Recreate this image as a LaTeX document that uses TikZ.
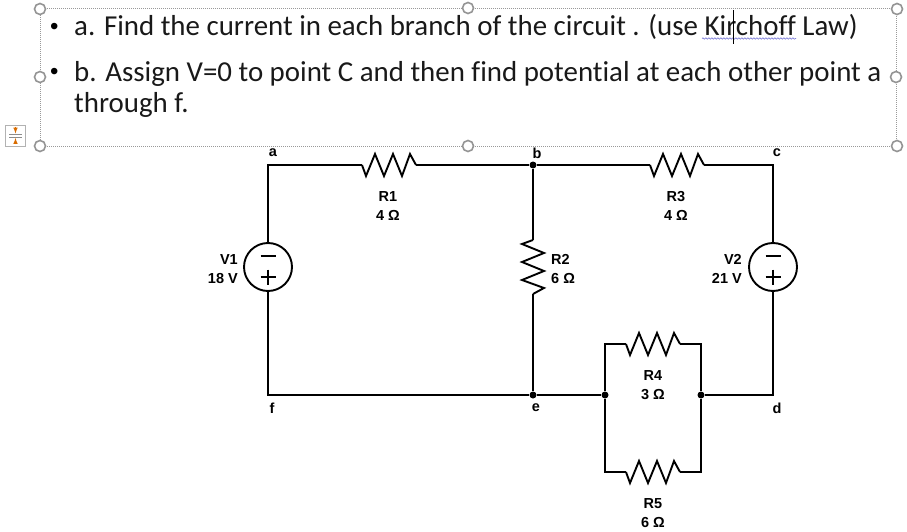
\documentclass[tikz,border=0pt]{standalone}
\usepackage{fontspec}
\setmainfont[Ligatures={NoCommon,NoRequired,NoContextual}]{Carlito}
\newfontfamily\labelfont{Liberation Sans}
\usetikzlibrary{decorations.pathmorphing}
\tikzset{
    wire/.style={line width=1.9pt,black},
    res/.pic={\draw[wire,line join=miter] (0,0) -- (4,11) -- (13,-11) -- (22,11) -- (31,-11) -- (40,11) -- (48,-11) -- (54,0);},
    dot/.style={circle,fill=black,inner sep=0pt,minimum size=7pt},
    lbl/.style={font=\labelfont\bfseries\fontsize{14.5}{19.5}\selectfont,inner sep=0pt,align=center,text=black},
    src/.style={circle,draw,line width=1.9pt,minimum size=48pt,inner sep=0pt,
        path picture={
            \draw[line width=1.3pt] (path picture bounding box.center) ++(-7.5pt,11pt) -- ++(15pt,0pt);
            \draw[line width=1.3pt] (path picture bounding box.center) ++(-7.5pt,-10pt) -- ++(15pt,0pt);
            \draw[line width=1.3pt] (path picture bounding box.center) ++(0pt,-2.5pt) -- ++(0pt,-15pt);
        }},
    handle/.style={circle,draw=black!42,fill=white,line width=1.6pt,minimum size=11pt,inner sep=0pt},
    boxline/.style={black!40,line width=1pt,dash pattern=on 1pt off 1pt},
    txt/.style={font=\fontsize{28.9}{32}\selectfont,anchor=base west,inner sep=0pt,text=black!90},
    bul/.style={font=\labelfont\fontsize{24}{24}\selectfont,anchor=base west,inner sep=0pt,text=black}
}
\begin{document}
\begin{tikzpicture}[x=1pt,y=-1pt]
    \useasboundingbox (0,0) rectangle (907,532);
    % text box
    \draw[boxline] (40,9) rectangle (896,146);
    \foreach \hname/\hx/\hy in {ha/40/9,hb/468/8,hc/897/9,hd/40/77,he/896/77,hf/40/146,hg/468/146,hh/897/146}
        \node[handle] (\hname) at (\hx,\hy) {};
    \node[bul] (bula) at (50,35) {•};
    \node[bul] (bulb) at (50,80) {•};
    \node[txt] (linea) at (74,36) {a. Find the current in each branch of the circuit . (use Kirchoff Law)};
    \node[txt] (lineb) at (74,82) {b. Assign V=0 to point C and then find potential at each other point a};
    \node[txt] (linec) at (74,113) {through f.};
    \draw[black!30!blue!50,line width=.7pt,decorate,decoration={snake,amplitude=.7pt,segment length=3pt}] (702,38.5) -- (796,38.5);
    \draw[black,line width=1pt] (733,10) -- (733,44);
    % collapse icon
    \draw[black!30,fill=white,line width=.8pt] (5.5,125.5) rectangle (25.5,146.5);
    \draw[black!45,line width=.6pt] (9,134.5) -- (22,134.5) (9,137) -- (22,137);
    \draw[orange!85!black,line width=1pt,-latex] (15.5,127) -- (15.5,133.5);
    \draw[orange!85!black,line width=1pt,-latex] (15.5,144) -- (15.5,138);
    % corners and junctions
    \coordinate (a) at (268,165);
    \coordinate (c) at (773,165);
    \coordinate (f) at (268,395);
    \coordinate (d) at (773,395);
    \node[dot] (b) at (533,165) {};
    \node[dot] (e) at (533,395) {};
    \node[dot] (p) at (605,395) {};
    \node[dot] (q) at (701,395) {};
    \coordinate (pt) at (605,344);
    \coordinate (qt) at (701,344);
    \coordinate (pb) at (605,472);
    \coordinate (qb) at (701,472);
    % sources
    \node[src] (v1) at (268,267) {};
    \node[src] (v2) at (773,267) {};
    % resistor ends
    \coordinate (r1w) at (362,165);
    \coordinate (r1e) at (416,165);
    \coordinate (r3w) at (650,165);
    \coordinate (r3e) at (704,165);
    \coordinate (r2t) at (533,240);
    \coordinate (r2b) at (533,294);
    \coordinate (r4w) at (626,344);
    \coordinate (r4e) at (680,344);
    \coordinate (r5w) at (626,472);
    \coordinate (r5e) at (680,472);
    \pic at (r1w) {res};
    \pic at (r3w) {res};
    \pic[rotate=-90] at (r2t) {res};
    \pic at (r4w) {res};
    \pic at (r5w) {res};
    % wires
    \draw[wire] (v1) -- (a) -- (r1w);
    \draw[wire] (r1e) -- (b) -- (r3w);
    \draw[wire] (r3e) -- (c) -- (v2);
    \draw[wire] (b) -- (r2t);
    \draw[wire] (r2b) -- (e);
    \draw[wire] (v1) -- (f) -- (e) -- (p);
    \draw[wire] (p) -- (pt) -- (r4w);
    \draw[wire] (r4e) -- (qt) -- (q);
    \draw[wire] (p) -- (pb) -- (r5w);
    \draw[wire] (r5e) -- (qb) -- (q);
    \draw[wire] (q) -- (d) -- (v2);
    % labels
    \node[lbl] (la) at (273,153) {a};
    \node[lbl] (lb) at (537,153) {b};
    \node[lbl] (lc) at (777,153) {c};
    \node[lbl] (lf) at (272,408) {f};
    \node[lbl] (le) at (536,408) {e};
    \node[lbl] (ld) at (777,408) {d};
    \node[lbl] (lr1) at (388,206) {R1\\4 Ω};
    \node[lbl] (lr3) at (676,206) {R3\\4 Ω};
    \node[lbl,anchor=west,align=left] (lr2) at (551,269) {R2\\6 Ω};
    \node[lbl] (lr4) at (653,385) {R4\\3 Ω};
    \node[lbl] (lr5) at (653,513) {R5\\6 Ω};
    \node[lbl,anchor=east,align=right] (lv1) at (238,269) {V1\\18 V};
    \node[lbl,anchor=east,align=right] (lv2) at (742,269) {V2\\21 V};
\end{tikzpicture}
\end{document}
